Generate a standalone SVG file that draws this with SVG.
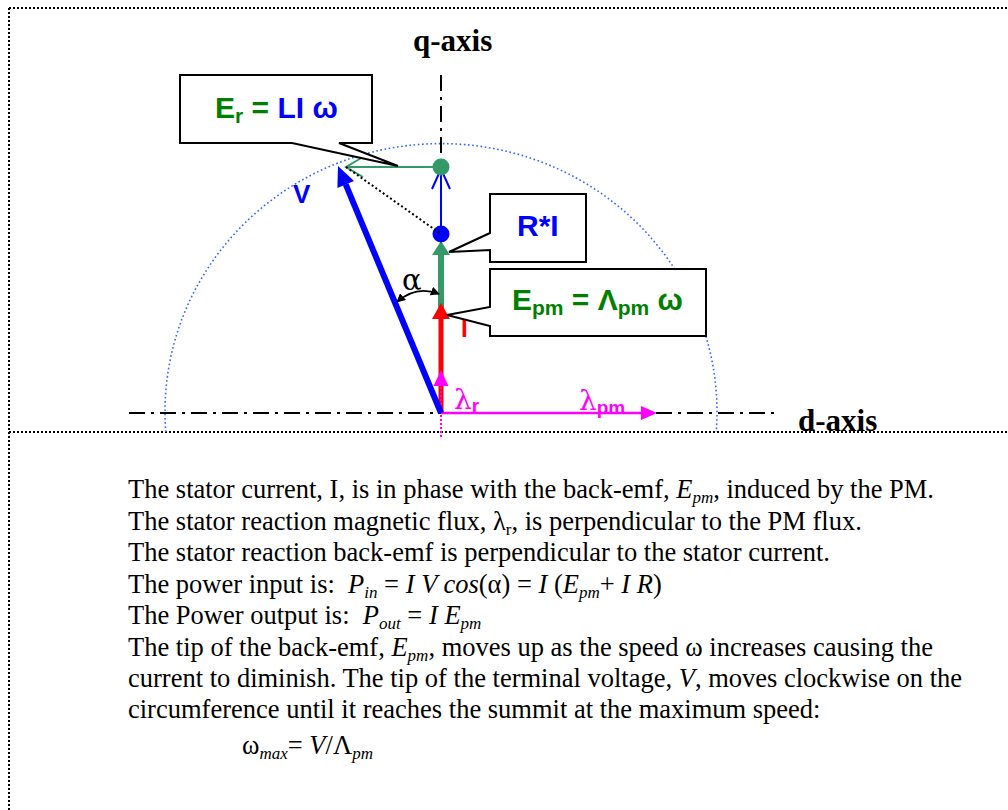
<svg xmlns="http://www.w3.org/2000/svg" width="1008" height="810" viewBox="0 0 1008 810">
<style>
.border{stroke:#000;stroke-width:2;stroke-dasharray:2 2;fill:none}
.axis{stroke:#000;stroke-width:2;stroke-dasharray:16 6 3 6;fill:none}
.circ{stroke:#3366ff;stroke-width:1.6;stroke-dasharray:1.6 2.6;fill:none}
.box{fill:#fff;stroke:#000;stroke-width:2}
.lbl{font-family:"Liberation Sans",Arial,sans-serif;font-weight:bold}
.greek{font-family:"DejaVu Serif","Liberation Serif",serif;font-weight:normal}
.body{font-family:"Liberation Serif","Times New Roman",serif;font-size:26.5px;fill:#000}
.it{font-style:italic}
.sub{font-size:17px}
.axt{font-family:"Liberation Serif","Times New Roman",serif;font-weight:bold;font-size:31px;fill:#000}
.grn{fill:#008000}
.blu{fill:#0000ff}
</style>
<defs>
<marker id="ah" viewBox="0 0 10 10" refX="9" refY="5" markerWidth="9" markerHeight="9" markerUnits="userSpaceOnUse" orient="auto-start-reverse">
<path d="M0,0 L10,5 L0,10 Z" fill="#000"/>
</marker>
</defs>

<g id="frame">
<line class="border" x1="9" y1="8" x2="1008" y2="8"/>
<line class="border" x1="9" y1="8" x2="9" y2="810"/>
<line class="border" x1="9" y1="432" x2="1008" y2="432"/>
</g>

<g id="circle">
<path class="circ" d="M165.8,432 A276,268 0 1 1 716.2,432"/>
</g>

<g id="axes">
<line class="axis" x1="441" y1="75" x2="441" y2="413"/>
<line class="axis" x1="129" y1="413" x2="775" y2="413"/>
<text class="axt" x="413" y="51">q-axis</text>
<text class="axt" x="798" y="431">d-axis</text>
</g>

<g id="connectors">
<line x1="441" y1="413" x2="642" y2="413" stroke="#ff00ff" stroke-width="2.5"/>
<polygon points="657,413 641,406 641,420" fill="#ff00ff"/>
<line x1="441" y1="318" x2="441" y2="252" stroke="#339966" stroke-width="6"/>
<polygon points="441,241 432,255 450,255" fill="#339966"/>
<line x1="441" y1="413" x2="441" y2="316" stroke="#ff0000" stroke-width="5"/>
<polygon points="441,303 432,319 450,319" fill="#ff0000"/>
<line x1="441" y1="437" x2="441" y2="385" stroke="#ff00ff" stroke-width="2" stroke-dasharray="2 2"/>
<polygon points="441,370 433.5,386 448.5,386" fill="#ff00ff"/>
<line x1="441" y1="234" x2="441" y2="169" stroke="#0000ff" stroke-width="2"/>
<polyline points="432,189 441,169 450,189" fill="none" stroke="#0000ff" stroke-width="2"/>
<circle cx="441" cy="234" r="8.5" fill="#0000ff"/>
<line x1="441" y1="167" x2="347" y2="167" stroke="#339966" stroke-width="2"/>
<polyline points="363,157 346,167 363,177" fill="none" stroke="#339966" stroke-width="2"/>
<circle cx="441" cy="167" r="8.5" fill="#339966"/>
<line x1="346" y1="167" x2="441" y2="234" stroke="#000" stroke-width="2" stroke-dasharray="2 2.5"/>
<line x1="441" y1="413" x2="345.7" y2="184.4" stroke="#0000ff" stroke-width="6"/>
<polygon points="338,166 354,180.9 337.4,187.9" fill="#0000ff"/>
<path d="M397,302 Q416,285 439,294" fill="none" stroke="#000" stroke-width="1.6" marker-start="url(#ah)" marker-end="url(#ah)"/>
</g>

<g id="labels">
<text class="lbl blu" x="293" y="203" font-size="26">V</text>
<text class="greek" x="402" y="290" font-size="29" fill="#000">α</text>
<text class="lbl" x="461" y="337" font-size="24" fill="#ff0000">I</text>
<text x="454" y="409" fill="#ff00ff"><tspan class="greek" font-size="28">λ</tspan><tspan class="lbl" font-size="19" dy="3">r</tspan></text>
<text x="579" y="410" fill="#ff00ff"><tspan class="greek" font-size="28">λ</tspan><tspan class="lbl" font-size="19" dy="4">pm</tspan></text>
</g>

<g id="callout-er">
<path class="box" d="M180,75 H372 V143 H339 L398,166 L292,143 H180 Z"/>
<text class="lbl" x="215" y="118" font-size="30"><tspan class="grn">E</tspan><tspan class="grn" font-size="21" dy="5">r</tspan><tspan class="grn" dy="-5"> = </tspan><tspan class="blu">LI ω</tspan></text>
</g>

<g id="callout-ri">
<path class="box" d="M490,194 H586 V262 H490 V250 L449,252 L490,233 Z"/>
<text class="lbl blu" x="517" y="236" font-size="30">R*I</text>
</g>

<g id="callout-epm">
<path class="box" d="M490,269 H706 V336 H490 V326 L447,315 L490,307 Z"/>
<text class="lbl grn" x="512" y="310" font-size="30">E<tspan font-size="21" dy="5">pm</tspan><tspan dy="-5"> = Λ</tspan><tspan font-size="21" dy="5">pm</tspan><tspan dy="-5"> ω</tspan></text>
</g>

<g id="description">
<text class="body" x="128" y="498">The stator current, I, is in phase with the back-emf, <tspan class="it">E</tspan><tspan class="it sub" dy="5">pm</tspan><tspan dy="-5">, induced by the PM.</tspan></text>
<text class="body" x="128" y="530">The stator reaction magnetic flux, λ<tspan class="sub" dy="5">r</tspan><tspan dy="-5">, is perpendicular to the PM flux.</tspan></text>
<text class="body" x="128" y="561">The stator reaction back-emf is perpendicular to the stator current.</text>
<text class="body" x="128" y="593">The power input is:&#160; <tspan class="it">P</tspan><tspan class="it sub" dy="5">in</tspan><tspan dy="-5"> = </tspan><tspan class="it">I V cos</tspan><tspan>(α) = </tspan><tspan class="it">I</tspan><tspan> (</tspan><tspan class="it">E</tspan><tspan class="it sub" dy="5">pm</tspan><tspan dy="-5">+ </tspan><tspan class="it">I R</tspan><tspan>)</tspan></text>
<text class="body" x="128" y="624">The Power output is:&#160; <tspan class="it">P</tspan><tspan class="it sub" dy="5">out</tspan><tspan dy="-5"> = </tspan><tspan class="it">I E</tspan><tspan class="it sub" dy="5">pm</tspan></text>
<text class="body" x="128" y="656">The tip of the back-emf, <tspan class="it">E</tspan><tspan class="it sub" dy="5">pm</tspan><tspan dy="-5">, moves up as the speed ω increases causing the</tspan></text>
<text class="body" x="128" y="687">current to diminish. The tip of the terminal voltage, <tspan class="it">V</tspan><tspan>, moves clockwise on the</tspan></text>
<text class="body" x="128" y="718">circumference until it reaches the summit at the maximum speed:</text>
<text class="body" x="242" y="754">ω<tspan class="it sub" dy="5">max</tspan><tspan dy="-5">= </tspan><tspan class="it">V</tspan><tspan>/Λ</tspan><tspan class="it sub" dy="5">pm</tspan></text>
</g>
</svg>
